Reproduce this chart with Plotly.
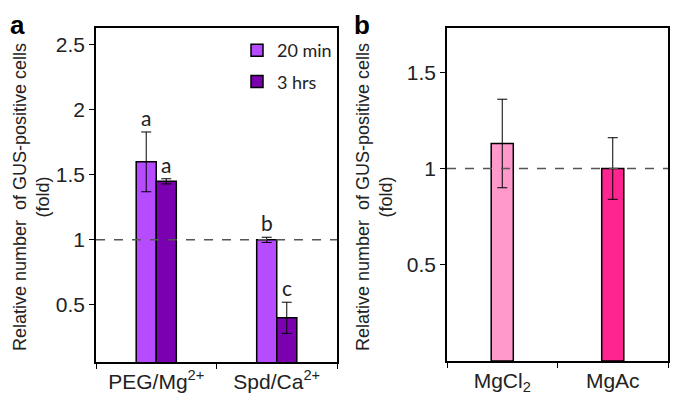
import plotly.graph_objects as go

# panel a
groups_a = ["PEG/Mg<sup>2+</sup>", "Spd/Ca<sup>2+</sup>"]
min20_vals = [1.60, 1.00]
min20_err = [0.23, 0.02]
hrs3_vals = [1.45, 0.40]
hrs3_err = [0.02, 0.12]
min20_letters = ["a", "b"]
hrs3_letters = ["a", "c"]

# panel b
groups_b = ["MgCl<sub>2</sub>", "MgAc"]
vals_b = [1.13, 1.00]
err_b = [0.23, 0.16]
colors_b = ["#FF99CC", "#FF2590"]

ytitle = "Relative number  of GUS-positive cells<br>(fold)"
tickfont = dict(family="Liberation Sans, Arial", size=21, color="#222")
letterfont = dict(family="Lato, Open Sans", size=21, color="#222")

# page body has an 8px margin, so lay out in window pixels minus that
W, H, OFF = 677, 408, 8


def px(x):
    return (x - OFF) / W


def py(y):
    return 1 - (y - OFF) / H


fig = go.Figure()

fig.add_trace(go.Bar(
    x=groups_a, y=min20_vals, name="20 min", legendgroup="g1",
    marker=dict(color="#B74BFF", line=dict(color="black", width=1.5)),
    error_y=dict(type="data", array=min20_err, color="black",
                 thickness=1, width=5),
    xaxis="x", yaxis="y"))
fig.add_trace(go.Bar(
    x=groups_a, y=hrs3_vals, name="3 hrs", legendgroup="g2",
    marker=dict(color="#7B00B0", line=dict(color="black", width=1.5)),
    error_y=dict(type="data", array=hrs3_err, color="black",
                 thickness=1, width=5),
    xaxis="x", yaxis="y"))
fig.add_trace(go.Bar(
    x=groups_b, y=vals_b, showlegend=False, width=0.2,
    marker=dict(color=colors_b, line=dict(color="black", width=1.5)),
    error_y=dict(type="data", array=err_b, color="black",
                 thickness=1, width=5),
    xaxis="x2", yaxis="y2"))

# significance letters
annotations = []
for g, v, e, t in zip(groups_a, min20_vals, min20_err, min20_letters):
    annotations.append(dict(x=g, y=v + e, text=t, xref="x", yref="y",
                            xshift=-10, yshift=0, yanchor="bottom",
                            showarrow=False, font=letterfont))
for g, v, e, t in zip(groups_a, hrs3_vals, hrs3_err, hrs3_letters):
    annotations.append(dict(x=g, y=v + e, text=t, xref="x", yref="y",
                            xshift=10, yshift=0, yanchor="bottom",
                            showarrow=False, font=letterfont))

# axis titles and panel letters
for xpos in [31, 374]:
    annotations.append(dict(x=px(xpos), y=py(197), xref="paper", yref="paper",
                            xanchor="center", yanchor="middle",
                            text=ytitle, textangle=-90, showarrow=False,
                            font=dict(family="Liberation Sans, Arial",
                                      size=18, color="#222")))
for xpos, lab in [(8, "a"), (352, "b")]:
    annotations.append(dict(x=px(xpos), y=py(8), xref="paper", yref="paper",
                            xanchor="left", yanchor="top",
                            text="<b>%s</b>" % lab, showarrow=False,
                            font=dict(family="Liberation Sans, Arial",
                                      size=26, color="black")))

shapes = []
for xr, yr in [("x domain", "y"), ("x2 domain", "y2")]:
    shapes.append(dict(type="line", xref=xr, yref=yr, x0=0, x1=1, y0=1, y1=1,
                       line=dict(color="#555", width=1.5, dash="dash")))

axis_common = dict(showline=True, linecolor="black", linewidth=1.5,
                   mirror=True, showgrid=False, zeroline=False,
                   ticks="outside", ticklen=5, tickcolor="black",
                   tickfont=tickfont)

fig.update_layout(
    width=W, height=H,
    margin=dict(l=0, r=0, t=0, b=0),
    paper_bgcolor="white", plot_bgcolor="white",
    barmode="group", bargap=0.667, bargroupgap=0,
    showlegend=True,
    legend=dict(x=px(337), y=py(32), xanchor="right", yanchor="top",
                font=dict(family="Lato, Open Sans", size=18, color="#222"),
                bgcolor="rgba(0,0,0,0)", tracegroupgap=5,
                itemwidth=30),
    xaxis=dict(domain=[px(96), px(337)], anchor="y",
               tickson="boundaries", **axis_common),
    yaxis=dict(domain=[py(362), py(28)], anchor="x",
               range=[0.06, 2.63], tickvals=[0.5, 1, 1.5, 2, 2.5],
               ticktext=["0.5", "1", "1.5", "2", "2.5"], **axis_common),
    xaxis2=dict(domain=[px(447), px(668)], anchor="y2",
                tickson="boundaries", **axis_common),
    yaxis2=dict(domain=[py(361), py(28)], anchor="x2",
                range=[0, 1.73], tickvals=[0.5, 1, 1.5],
                ticktext=["0.5", "1", "1.5"], **axis_common),
    annotations=annotations,
    shapes=shapes,
)

fig.write_html("out.html")
